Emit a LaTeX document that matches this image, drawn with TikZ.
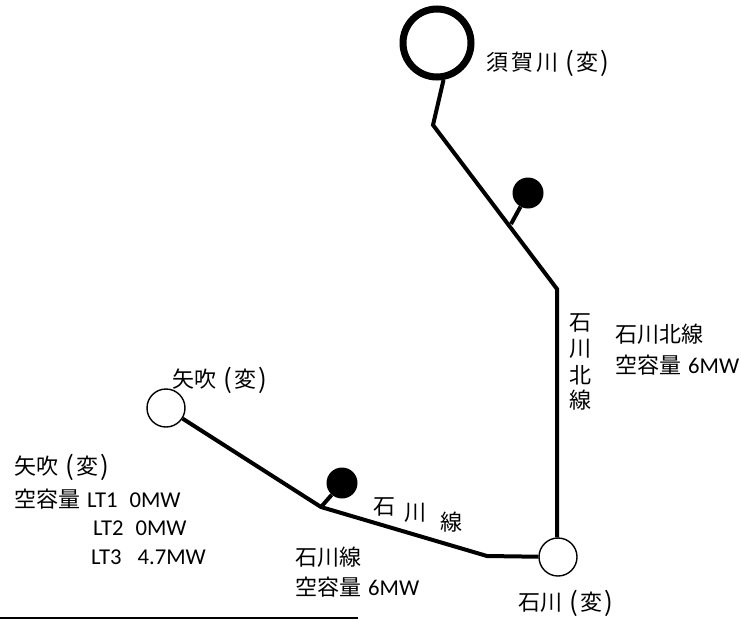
\documentclass[tikz,border=0pt]{standalone}
\usepackage{fontspec}
\setmainfont{Carlito}[Scale=1.03]
\newfontfamily\cjk{Noto Sans CJK JP}[Scale=1.0]
\newcommand{\jp}[1]{{\cjk #1}}
\newcommand{\bigp}[1]{{\fontsize{26}{24}\selectfont\raisebox{-0.5pt}{#1}}}
\newcommand{\paren}[1]{{\cjk\hspace{0.33em}\bigp{(}\hspace{0.12em}#1\hspace{0.08em}\bigp{)}}}
\tikzset{
  lbl/.style={inner sep=0pt,anchor=west,font=\fontsize{22}{24}\selectfont},
  wire/.style={draw=black,line width=4pt,line join=miter},
  stub/.style={draw=black,line width=4pt},
  sub/.style={circle,draw=black,fill=white,line width=1.4pt,minimum size=38pt,inner sep=0pt},
  bigsub/.style={circle,draw=black,fill=white,line width=7pt,minimum size=68pt,inner sep=0pt},
  dot/.style={circle,fill=black,minimum size=31pt,inner sep=0pt}
}
\begin{document}
\begin{tikzpicture}[x=1pt,y=-1pt]
\useasboundingbox (0,0) rectangle (741,619);
% connector corners
\coordinate (a1) at (433,125);
\coordinate (a2) at (557,289);
\coordinate (t1) at (511,224);
\coordinate (b1) at (321,507);
\coordinate (b2) at (487,556);
\coordinate (r1) at (0,618);
\coordinate (r2) at (358,618);
% nodes
\node[bigsub] (suka) at (437,43) {};
\node[sub] (yabu) at (166,408) {};
\node[sub] (ishi) at (558,557) {};
\node[dot] (d1) at (528,193) {};
\node[dot] (d2) at (342,483) {};
% connectors
\draw[wire] (suka.-80) -- (a1) -- (a2) -- (ishi.north -| a2);
\draw[wire] (yabu) -- (b1) -- (b2) -- (ishi);
\draw[stub] (t1) -- (d1);
\draw[stub] (b1) -- (d2);
\draw[draw=black,line width=1.6pt] (r1) -- (r2);
% labels
\node[lbl] (l1) at (486,63) {\jp{須\hspace{3pt}賀\hspace{3pt}川}\paren{変}};
\node[lbl] (l2) at (172,380) {\jp{矢吹}\paren{変}};
\node[lbl] (l3) at (14,467) {\jp{矢吹}\paren{変}};
\node[lbl] (l4) at (14,499) {\jp{空容量}\hspace{7pt}LT1\hspace{12pt}0MW};
\node[lbl] (l5) at (93,528) {LT2\hspace{12pt}0MW};
\node[lbl] (l6) at (91,557) {LT3\hspace{16pt}4.7MW};
\node[lbl] (l7) at (295,557) {\jp{石川線}};
\node[lbl] (l8) at (295,587) {\jp{空容量}\hspace{7pt}6MW};
\node[lbl] (l9) at (518,603) {\jp{石川}\paren{変}};
\node[lbl] (l10) at (615,334) {\jp{石川北線}};
\node[lbl] (l11) at (615,365) {\jp{空容量}\hspace{7pt}6MW};
\node[lbl] (c1) at (569,323) {\jp{石}};
\node[lbl] (c2) at (569,349) {\jp{川}};
\node[lbl] (c3) at (569,375) {\jp{北}};
\node[lbl] (c4) at (569,400) {\jp{線}};
\node[lbl] (h1) at (373,507) {\jp{石}};
\node[lbl] (h2) at (404,513) {\jp{川}};
\node[lbl] (h3) at (440,522) {\jp{線}};
\end{tikzpicture}
\end{document}
